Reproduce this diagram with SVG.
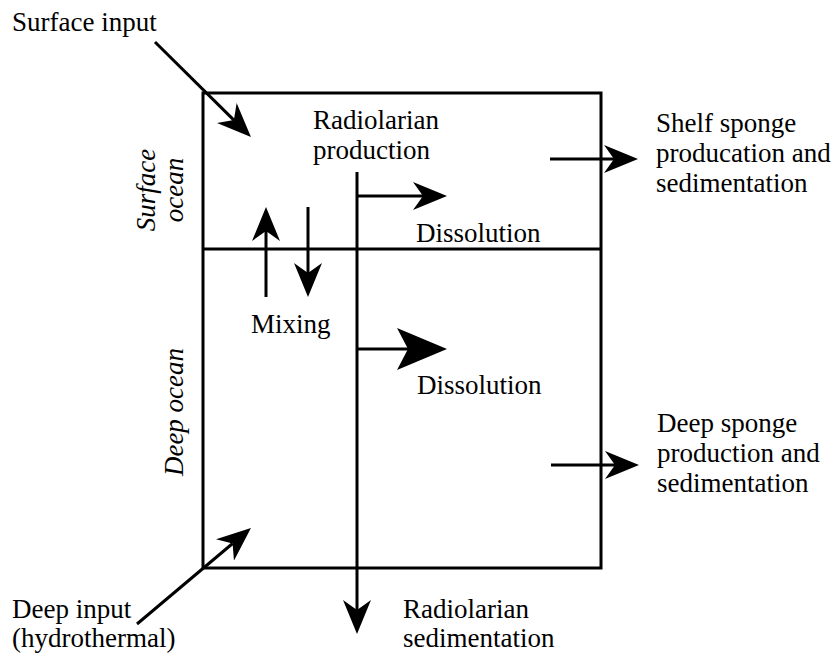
<svg xmlns="http://www.w3.org/2000/svg" width="832" height="653" viewBox="0 0 832 653">
<style>
  text { font-family: 'Liberation Serif', 'Times New Roman', 'DejaVu Serif', serif; font-size: 27px; fill: #000; }
  .it { font-style: italic; text-anchor: middle; }
  .ln { stroke: #000; stroke-width: 3; fill: none; }
  .box { stroke: #000; stroke-width: 3; fill: #fff; }
</style>
<defs>
  <marker id="ah" viewBox="0 0 34 28" refX="10" refY="14" markerWidth="34" markerHeight="28" markerUnits="userSpaceOnUse" orient="auto">
    <path d="M0,0 L34,14 L0,28 L10,14 Z" fill="#000"/>
  </marker>
  <marker id="ahl" viewBox="0 0 50 42" refX="11" refY="21" markerWidth="50" markerHeight="42" markerUnits="userSpaceOnUse" orient="auto">
    <path d="M0,0 L50,21 L0,42 L11,21 Z" fill="#000"/>
  </marker>
</defs>
<rect width="832" height="653" fill="#fff"/>

<g id="ocean-box">
  <rect class="box" x="203" y="93" width="398" height="475"/>
  <line class="ln" x1="203" y1="249" x2="601" y2="249"/>
</g>

<g id="surface-ocean-label">
  <text class="it" transform="translate(155,190) rotate(-90)">Surface</text>
  <text class="it" transform="translate(183,190) rotate(-90)">ocean</text>
</g>
<g id="deep-ocean-label">
  <text class="it" transform="translate(183,412) rotate(-90)">Deep ocean</text>
</g>

<g id="connectors">
  <line class="ln" x1="155" y1="42" x2="233.9" y2="120.1" marker-end="url(#ah)"/>
  <line class="ln" x1="137" y1="624" x2="232.6" y2="543.5" marker-end="url(#ah)"/>
  <line class="ln" x1="550" y1="159" x2="614" y2="159" marker-end="url(#ah)"/>
  <line class="ln" x1="551" y1="465" x2="615" y2="465" marker-end="url(#ah)"/>
  <line class="ln" x1="357" y1="172" x2="357" y2="610" marker-end="url(#ah)"/>
  <line class="ln" x1="357" y1="196" x2="423" y2="196" marker-end="url(#ah)"/>
  <line class="ln" x1="357" y1="349" x2="408" y2="349" marker-end="url(#ahl)"/>
  <line class="ln" x1="266" y1="297" x2="266" y2="231" marker-end="url(#ah)"/>
  <line class="ln" x1="308" y1="207" x2="308" y2="273" marker-end="url(#ah)"/>
</g>

<g id="surface-input"><text x="12" y="31">Surface input</text></g>
<g id="radiolarian-production">
  <text x="313" y="129">Radiolarian</text>
  <text x="313" y="159">production</text>
</g>
<g id="shelf-sponge">
  <text x="656" y="132">Shelf sponge</text>
  <text x="656" y="162">producation and</text>
  <text x="656" y="192">sedimentation</text>
</g>
<g id="dissolution-surface"><text x="416" y="242">Dissolution</text></g>
<g id="mixing"><text x="251" y="333">Mixing</text></g>
<g id="dissolution-deep"><text x="417" y="394">Dissolution</text></g>
<g id="deep-sponge">
  <text x="657" y="432">Deep sponge</text>
  <text x="657" y="462">production and</text>
  <text x="657" y="492">sedimentation</text>
</g>
<g id="deep-input">
  <text x="12" y="618">Deep input</text>
  <text x="12" y="647">(hydrothermal)</text>
</g>
<g id="radiolarian-sedimentation">
  <text x="403" y="618">Radiolarian</text>
  <text x="403" y="647">sedimentation</text>
</g>
</svg>
